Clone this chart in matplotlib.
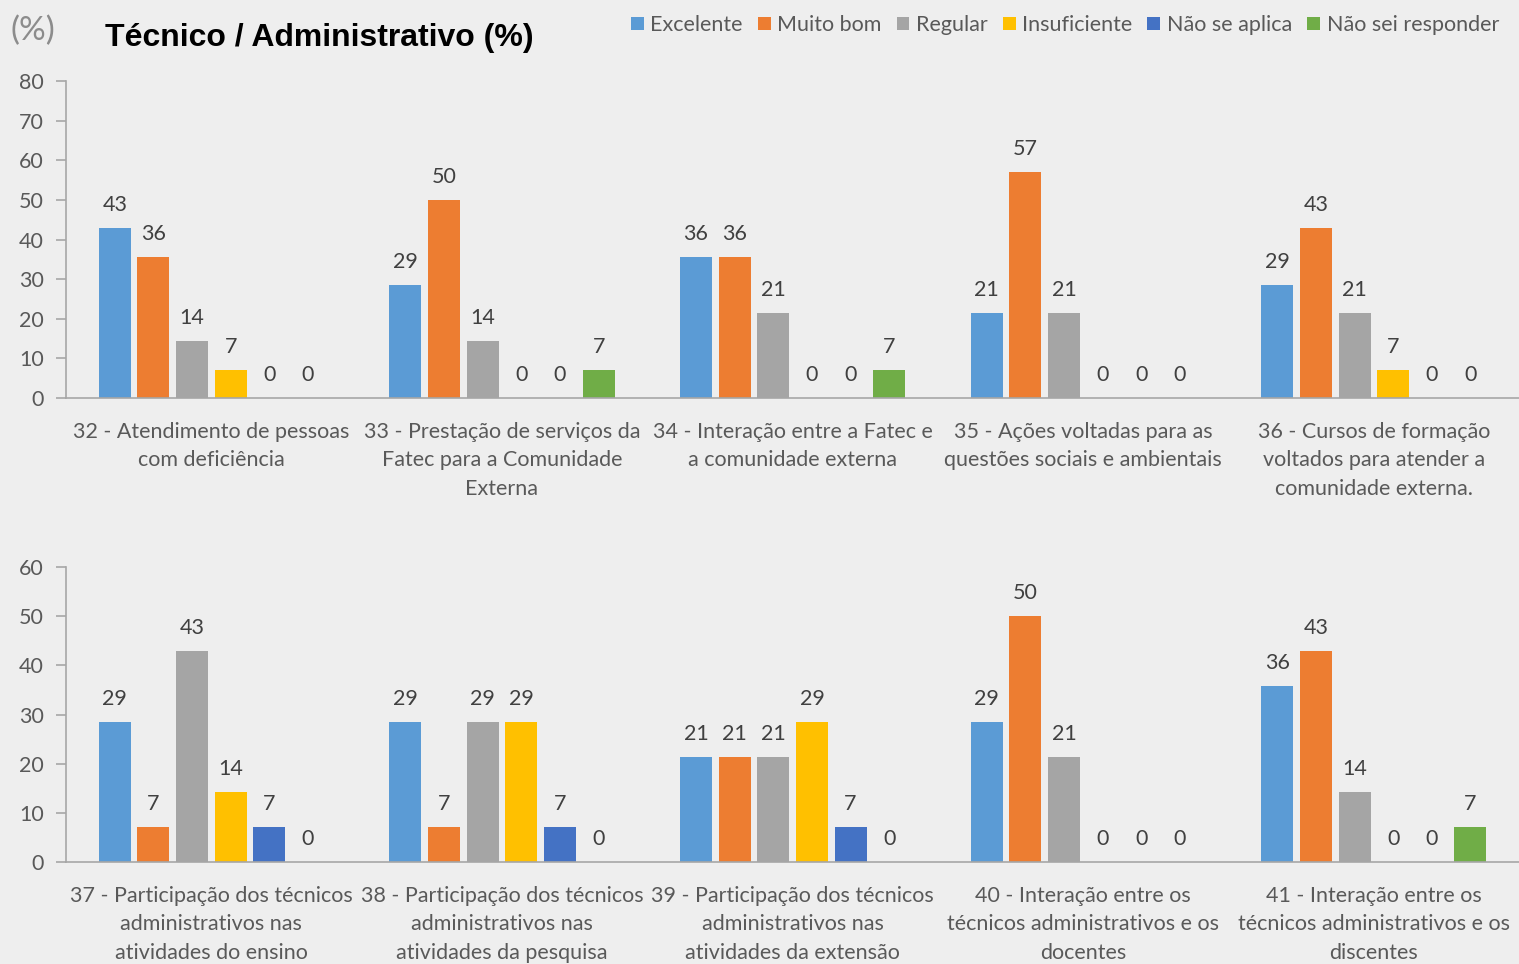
import numpy as np
import matplotlib.pyplot as plt

plt.rcParams['font.family'] = ['Lato', 'DejaVu Sans']

series = ['Excelente', 'Muito bom', 'Regular', 'Insuficiente',
          'Não se aplica', 'Não sei responder']
colors = ['#5B9BD5', '#ED7D31', '#A5A5A5', '#FFC000', '#4472C4', '#70AD47']

cats_top = ['32 - Atendimento de pessoas\ncom deficiência',
            '33 - Prestação de serviços da\nFatec para a Comunidade\nExterna',
            '34 - Interação entre a Fatec e\na comunidade externa',
            '35 - Ações voltadas para as\nquestões sociais e ambientais',
            '36 - Cursos de formação\nvoltados para atender a\ncomunidade externa.']
# percentuais por série (linhas = série, colunas = questão)
vals_top = [
    [42.86, 28.57, 35.71, 21.43, 28.57],   # Excelente
    [35.71, 50.00, 35.71, 57.14, 42.86],   # Muito bom
    [14.29, 14.29, 21.43, 21.43, 21.43],   # Regular
    [7.14, 0, 0, 0, 7.14],                 # Insuficiente
    [0, 0, 0, 0, 0],                       # Não se aplica
    [0, 7.14, 7.14, 0, 0],                 # Não sei responder
]

cats_bot = ['37 - Participação dos técnicos\nadministrativos nas\natividades do ensino',
            '38 - Participação dos técnicos\nadministrativos nas\natividades da pesquisa',
            '39 - Participação dos técnicos\nadministrativos nas\natividades da extensão',
            '40 - Interação entre os\ntécnicos administrativos e os\ndocentes',
            '41 - Interação entre os\ntécnicos administrativos e os\ndiscentes']
vals_bot = [
    [28.57, 28.57, 21.43, 28.57, 35.71],
    [7.14, 7.14, 21.43, 50.00, 42.86],
    [42.86, 28.57, 21.43, 21.43, 14.29],
    [14.29, 28.57, 28.57, 0, 0],
    [7.14, 7.14, 7.14, 0, 0],
    [0, 0, 0, 0, 7.14],
]

bg = '#EEEEEE'
fig = plt.figure(figsize=(15.19, 9.64), dpi=100, facecolor=bg)
ax1 = fig.add_axes([0.0435, 0.5871, 0.9566, 0.3288])
ax2 = fig.add_axes([0.0435, 0.1058, 0.9566, 0.3060])

step = 0.133
width = 0.11
fs = 15.5


def draw(ax, cats, vals, ymax, px_per_unit):
    ax.set_facecolor(bg)
    x = np.arange(len(cats))
    for i, s in enumerate(series):
        pos = x + (i - 2.5) * step
        bars = ax.bar(pos, vals[i], width, color=colors[i], label=s)
        for b, v in zip(bars, vals[i]):
            ax.text(b.get_x() + b.get_width() / 2, v + 13 / px_per_unit,
                    '%d' % round(v), ha='center', va='bottom',
                    fontsize=fs, color='#404040')
    ax.set_xlim(-0.5, len(cats) - 0.5)
    ax.set_ylim(0, ymax)
    ax.set_yticks(np.arange(0, ymax + 1, 10))
    ax.set_xticks(x)
    ax.set_xticklabels(cats, fontsize=fs, color='#595959', linespacing=1.55)
    ax.tick_params(axis='y', labelsize=fs, labelcolor='#595959',
                   color='#A6A6A6', length=7, width=1.2, pad=9)
    ax.tick_params(axis='x', length=0, pad=17)
    for sp in ['top', 'right']:
        ax.spines[sp].set_visible(False)
    for sp in ['left', 'bottom']:
        ax.spines[sp].set_color('#A6A6A6')
        ax.spines[sp].set_linewidth(1.2)


draw(ax1, cats_top, vals_top, 80, 317 / 80)
draw(ax2, cats_bot, vals_bot, 60, 295 / 60)

fig.text(0.007, 0.968, '(%)', fontsize=24, color='#8C8C8C', va='center')
fig.text(0.069, 0.961, 'Técnico / Administrativo (%)', fontsize=23,
         fontweight='bold', color='black', va='center',
         family=['Liberation Sans', 'DejaVu Sans'])

leg = ax1.legend(loc='upper right', bbox_to_anchor=(0.992, 1.235), ncol=6,
                 frameon=False, fontsize=fs, handlelength=0.6,
                 handleheight=0.6, handletextpad=0.3, columnspacing=0.7,
                 labelcolor='#595959', borderaxespad=0)

fig.savefig('out.png', dpi=100, facecolor=bg)
